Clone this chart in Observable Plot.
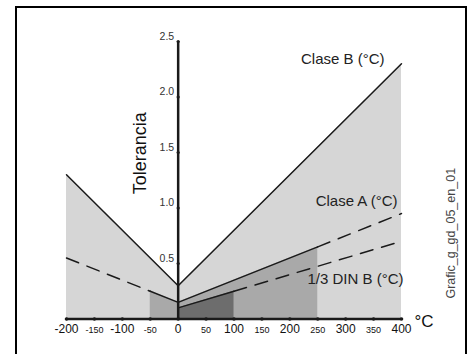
<!DOCTYPE html>
<html>
<head>
<meta charset="utf-8">
<script src="https://cdn.jsdelivr.net/npm/d3@7"></script>
<script src="https://cdn.jsdelivr.net/npm/@observablehq/plot@0.6"></script>
<style>
  html, body { margin: 0; padding: 0; background: #fff; }
  body { position: relative; width: 474px; height: 354px; overflow: hidden; font-family: "Liberation Sans", Arial, sans-serif; }
  #frame { position: absolute; left: 15px; top: 6px; width: 452px; height: 370px; box-sizing: border-box; border: 2.5px solid #000; pointer-events: none; z-index: 2; }
  #chart { position: absolute; left: 0; top: 0; }
</style>
</head>
<body>
<div id="chart"></div>
<div id="frame"></div>
<script>
// Class B tolerance (°C)
const classBTemp = [-200, 0, 400];
const classBTol  = [1.30, 0.30, 2.30];
// Class A tolerance (°C)
const classATemp = [-200, -50, 0, 250, 400];
const classATol  = [0.55, 0.25, 0.15, 0.65, 0.95];
// 1/3 DIN B tolerance (°C)
const dinTemp = [0, 100, 400];
const dinTol  = [0.10, 0.25, 0.70];
// valid (solid) ranges
const classARange = [-50, 250];
const dinRange = [0, 100];
// tick labels
const xMajorTicks = [-200, -100, 0, 100, 200, 300, 400];
const xMinorTicks = [-150, -50, 50, 150, 250, 350];
const yTicks = [0.5, 1.0, 1.5, 2.0, 2.5];
const seriesLabels = ["Clase B (°C)", "Clase A (°C)", "1/3 DIN B (°C)"];

const zip = (t, v) => t.map((x, i) => ({t: x, v: v[i]}));
const B = zip(classBTemp, classBTol);
const A = zip(classATemp, classATol);
const D = zip(dinTemp, dinTol);
const inR = (r) => (d) => d.t >= r[0] && d.t <= r[1];
const A_solid = A.filter(inR(classARange));
const A_dashL = A.filter(d => d.t <= classARange[0]);
const A_dashR = A.filter(d => d.t >= classARange[1]);
const D_solid = D.filter(inR(dinRange));
const D_dash = D.filter(d => d.t >= dinRange[1]);

const font = "Liberation Sans, Arial, sans-serif";
const ink = "#1a1a1a";
const dash = "13,9";

const plot = Plot.plot({
  width: 474,
  height: 354,
  marginLeft: 66,
  marginRight: 73,
  marginTop: 41,
  marginBottom: 35.5,
  x: {domain: [-200, 400], axis: null},
  y: {domain: [0, 2.5], axis: null},
  style: {fontFamily: font, background: "transparent"},
  marks: [
    Plot.areaY(B, {x: "t", y: "v", fill: "#d6d6d6"}),
    Plot.areaY(A_solid, {x: "t", y: "v", fill: "#a9a9a9"}),
    Plot.areaY(D_solid, {x: "t", y: "v", fill: "#6d6d6d"}),
    Plot.line(B, {x: "t", y: "v", stroke: ink, strokeWidth: 1.5}),
    Plot.line(A_solid, {x: "t", y: "v", stroke: ink, strokeWidth: 1.5}),
    Plot.line(A_dashL, {x: "t", y: "v", stroke: ink, strokeWidth: 1.5, strokeDasharray: dash}),
    Plot.line(A_dashR, {x: "t", y: "v", stroke: ink, strokeWidth: 1.5, strokeDasharray: dash}),
    Plot.line(D_solid, {x: "t", y: "v", stroke: ink, strokeWidth: 1.5}),
    Plot.line(D_dash, {x: "t", y: "v", stroke: ink, strokeWidth: 1.5, strokeDasharray: dash}),
    // axes
    Plot.ruleY([0], {x1: xMajorTicks[0], x2: xMajorTicks[xMajorTicks.length - 1], stroke: ink, strokeWidth: 2.5}),
    Plot.ruleX([0], {y1: 0, y2: yTicks[yTicks.length - 1], stroke: ink, strokeWidth: 2.5}),
    Plot.dot(xMajorTicks.concat(xMinorTicks), {x: d => d, y: 0, r: 1.8, fill: ink}),
    Plot.dot(yTicks, {x: 0, y: d => d, r: 1.6, fill: ink}),
    Plot.text(xMajorTicks, {x: d => d, y: 0, text: d => String(d), dy: 10, fontSize: 12, fill: "#111", lineAnchor: "middle"}),
    Plot.text(xMinorTicks, {x: d => d, y: 0, text: d => String(d), dy: 11, fontSize: 9, fill: "#111", lineAnchor: "middle"}),
    Plot.text(yTicks, {x: 0, y: d => d, text: d => d.toFixed(1), dx: -4, dy: -5, textAnchor: "end", fontSize: 10.5, fill: "#333", lineAnchor: "middle"}),
    Plot.text(["°C"], {x: xMajorTicks[xMajorTicks.length - 1], y: 0, text: d => d, dx: 13, dy: 3, textAnchor: "start", fontSize: 17, fill: "#111", lineAnchor: "middle"}),
    Plot.text(["Tolerancia"], {frameAnchor: "left", text: d => d, rotate: -90, dx: 74, dy: -27, textAnchor: "middle", fontSize: 18, fill: "#111", lineAnchor: "middle"}),
    // series labels anchored at line ends
    Plot.text([B[B.length - 1]], {x: "t", y: "v", text: () => seriesLabels[0], textAnchor: "end", dx: -17, dy: -5, fontSize: 15, fill: "#222", lineAnchor: "middle"}),
    Plot.text([A[A.length - 1]], {x: "t", y: "v", text: () => seriesLabels[1], textAnchor: "end", dx: -4, dy: -12, fontSize: 15, fill: "#222", lineAnchor: "middle"}),
    Plot.text([D[D.length - 1]], {x: "t", y: "v", text: () => seriesLabels[2], textAnchor: "end", dx: 2, dy: 38, fontSize: 15, fill: "#222", lineAnchor: "middle"}),
    Plot.text(["Grafic_g_gd_05_en_01"], {frameAnchor: "right", text: d => d, rotate: -90, dx: 49, dy: 53, textAnchor: "middle", fontSize: 12.5, fill: "#444", lineAnchor: "middle"})
  ]
});
document.getElementById("chart").appendChild(plot);
</script>
</body>
</html>
